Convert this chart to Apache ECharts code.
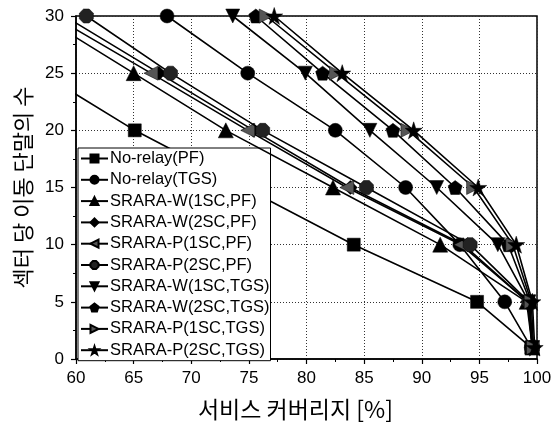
<!DOCTYPE html>
<html>
<head>
<meta charset="utf-8">
<script src="https://cdn.jsdelivr.net/npm/echarts@6/dist/echarts.min.js"></script>
<style>
  html, body { margin: 0; padding: 0; background: #fff; }
  #chart { width: 558px; height: 428px; }
</style>
</head>
<body>
<div id="chart"></div>
<script>
// number of users per sector (y values)
const users = [30, 25, 20, 15, 10, 5, 1];

// service coverage [%] per series, aligned with users (null = no point)
const noRelayPF = [null, 57.0, 65.1, null, 84.1, 94.8, 99.5];
const noRelayTGS = [67.9, 74.9, 82.5, 88.6, 93.3, 97.2, 99.5];
const wPF1 = [57.0, 65.0, 73.0, 82.3, 91.6, 99.1, 99.6];
const wPF2 = [59.0, 67.2, 75.4, 83.8, 93.6, 99.2, 99.6];
const pPF1 = [58.0, 66.5, 74.9, 83.5, 93.4, 99.2, 99.6];
const pPF2 = [60.9, 68.2, 76.2, 85.2, 94.2, 99.3, 99.6];
const wTGS1 = [73.6, 79.9, 85.5, 91.3, 96.6, 99.3, 99.6];
const wTGS2 = [75.6, 81.4, 87.5, 92.9, 97.5, 99.4, 99.6];
const pTGS1 = [76.5, 82.6, 88.8, 94.5, 97.9, 99.5, 99.7];
const pTGS2 = [77.2, 83.1, 89.3, 94.9, 98.2, 99.6, 99.8];

const seriesNames = [
  "No-relay(PF)", "No-relay(TGS)", "SRARA-W(1SC,PF)", "SRARA-W(2SC,PF)",
  "SRARA-P(1SC,PF)", "SRARA-P(2SC,PF)", "SRARA-W(1SC,TGS)", "SRARA-W(2SC,TGS)",
  "SRARA-P(1SC,TGS)", "SRARA-P(2SC,TGS)"
];
const seriesValues = [noRelayPF, noRelayTGS, wPF1, wPF2, pPF1, pPF2, wTGS1, wTGS2, pTGS1, pTGS2];

const symbols = [
  "rect",
  "circle",
  "triangle",
  "diamond",
  "path://M0,5 L9,0 L9,10 Z",
  "path://M3,0 L7,0 L10,3 L10,7 L7,10 L3,10 L0,7 L0,3 Z",
  "path://M0,0 L10,0 L5,9 Z",
  "path://M5,0 L10,3.8 L8.1,10 L1.9,10 L0,3.8 Z",
  "path://M0,0 L9,5 L0,10 Z",
  "path://M5,0 L6.2,3.6 L10,3.6 L6.9,5.9 L8.1,9.5 L5,7.3 L1.9,9.5 L3.1,5.9 L0,3.6 L3.8,3.6 Z"
];
const symbolSizes = [13, 14, 15, 14, 14, 14, 14, 14, 14, 17];
const symbolColors = ["#000", "#000", "#000", "#000", "#555", "#222", "#000", "#000", "#555", "#000"];

const series = seriesNames.map(function (name, i) {
  return {
    name: name,
    type: "line",
    data: seriesValues[i].map(function (x, j) { return x === null ? null : [x, users[j]]; }).filter(function (d) { return d !== null; }),
    symbol: symbols[i],
    symbolSize: symbolSizes[i],
    showAllSymbol: true,
    clip: true,
    lineStyle: { color: "#000", width: 1.6 },
    itemStyle: { color: symbolColors[i], borderColor: "#000", borderWidth: 0.5 },
    emphasis: { disabled: true },
    z: 2 + i
  };
});

const chart = echarts.init(document.getElementById("chart"));
chart.setOption({
  animation: false,
  grid: { left: 76, right: 21, top: 16, bottom: 69, show: true, borderColor: "#000", borderWidth: 1.5, backgroundColor: "transparent" },
  legend: {
    orient: "vertical",
    left: 78,
    top: 148,
    itemWidth: 27,
    itemHeight: 10,
    itemGap: 4.3,
    padding: [2, 1, 2, 2],
    backgroundColor: "#fff",
    borderColor: "#000",
    borderWidth: 1,
    textStyle: { fontFamily: "Liberation Sans", fontSize: 16.5, color: "#000", padding: [0, 0, 0, -3] },
    data: seriesNames
  },
  xAxis: {
    type: "value",
    min: 60,
    max: 100,
    interval: 5,
    name: "서비스 커버리지 [%]",
    nameLocation: "middle",
    nameGap: 39,
    nameTextStyle: { fontFamily: "Noto Sans CJK KR", fontSize: 23, color: "#000", padding: [0, 22, 0, 0] },
    axisLine: { lineStyle: { color: "#000", width: 1.5 } },
    axisTick: { inside: false, length: 5, lineStyle: { color: "#000", width: 1.2 } },
    minorTick: { show: true, splitNumber: 2, length: 3, lineStyle: { color: "#000", width: 1 } },
    axisLabel: { fontFamily: "Liberation Sans", fontSize: 17, color: "#000", margin: 11 },
    splitLine: { show: true, lineStyle: { color: "#333", type: [1, 2], width: 1 } }
  },
  yAxis: {
    type: "value",
    min: 0,
    max: 30,
    interval: 5,
    name: "섹터 당 이동 단말의 수",
    nameLocation: "middle",
    nameGap: 42,
    nameTextStyle: { fontFamily: "Noto Sans CJK KR", fontSize: 22, color: "#000" },
    axisLine: { show: true, lineStyle: { color: "#000", width: 1.5 } },
    axisTick: { inside: false, length: 5, lineStyle: { color: "#000", width: 1.2 } },
    minorTick: { show: true, splitNumber: 2, length: 3, lineStyle: { color: "#000", width: 1 } },
    axisLabel: { fontFamily: "Liberation Sans", fontSize: 17, color: "#000", margin: 12 },
    splitLine: { show: true, lineStyle: { color: "#333", type: [1, 2], width: 1 } }
  },
  series: series
});
</script>
</body>
</html>
